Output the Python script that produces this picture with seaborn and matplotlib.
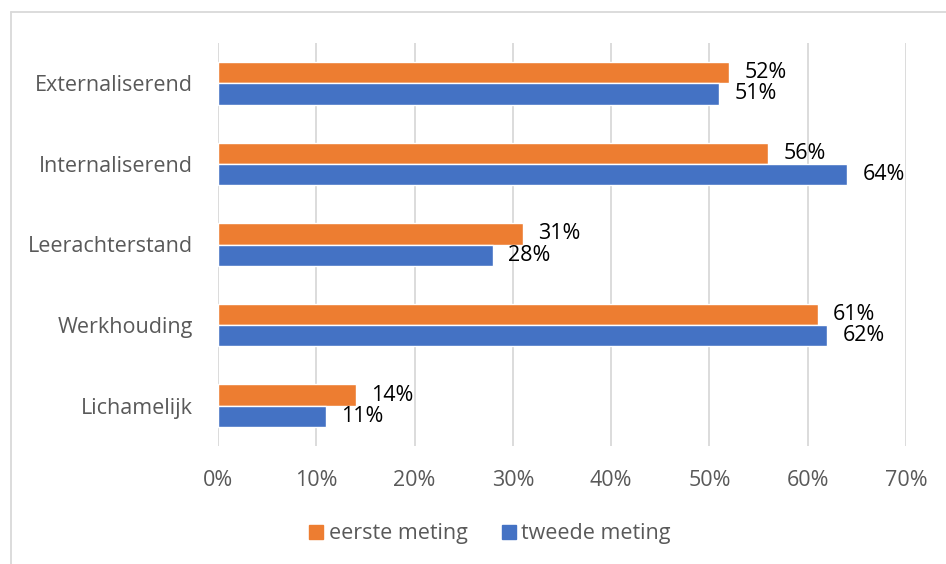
import pandas as pd
import seaborn as sns
import matplotlib.pyplot as plt
from matplotlib.ticker import PercentFormatter
from matplotlib.lines import Line2D

categories = ["Externaliserend", "Internaliserend", "Leerachterstand", "Werkhouding", "Lichamelijk"]
eerste_meting = [52, 56, 31, 61, 14]
tweede_meting = [51, 64, 28, 62, 11]
series_names = ["eerste meting", "tweede meting"]
x_ticks = [0, 10, 20, 30, 40, 50, 60, 70]

df = pd.DataFrame({
    "Categorie": categories * 2,
    "Meting": [series_names[0]] * len(categories) + [series_names[1]] * len(categories),
    "Waarde": eerste_meting + tweede_meting,
})

sns.set_style("white")
plt.rcParams["font.family"] = ["Open Sans", "DejaVu Sans"]
fs = 15.5

fig = plt.figure(figsize=(9.46, 5.64), dpi=100)
ax = fig.add_axes([218 / 946, 1 - 446 / 564, (906 - 218) / 946, (446 - 43) / 564])

palette = {"eerste meting": "#ED7D31", "tweede meting": "#4472C4"}
sns.barplot(data=df, y="Categorie", x="Waarde", hue="Meting", order=categories,
            hue_order=series_names, palette=palette, orient="h", width=0.53,
            ax=ax, saturation=1, legend=False)

for cont in ax.containers:
    ax.bar_label(cont, labels=[f"{v:.0f}%" for v in cont.datavalues],
                 padding=11, fontsize=fs, color="black")

ax.set_xlim(0, 70)
ax.set_xticks(x_ticks)
ax.xaxis.set_major_formatter(PercentFormatter(decimals=0))
ax.grid(axis="x", color="#D9D9D9", linewidth=1.3)
ax.set_axisbelow(True)
for s in ax.spines.values():
    s.set_visible(False)
ax.set_xlabel("")
ax.set_ylabel("")
ax.tick_params(axis="both", length=0, labelsize=fs, labelcolor="#595959")
ax.tick_params(axis="y", pad=18)
ax.tick_params(axis="x", pad=17)

handles = [Line2D([], [], marker="s", linestyle="none", markersize=10,
                  markerfacecolor=palette[n], markeredgecolor=palette[n]) for n in series_names]
fig.legend(handles, series_names, loc="center", bbox_to_anchor=(488 / 946, 1 - 534 / 564),
           ncol=2, frameon=False, fontsize=fs, labelcolor="#595959",
           handletextpad=0.1, columnspacing=1.4, handlelength=1.0)

# light border of the chart area
fig.add_artist(Line2D([11 / 946, 11 / 946], [0, 1 - 12 / 564], transform=fig.transFigure,
                      color="#D9D9D9", linewidth=1.3))
fig.add_artist(Line2D([11 / 946, 1], [1 - 12 / 564, 1 - 12 / 564], transform=fig.transFigure,
                      color="#D9D9D9", linewidth=1.3))

fig.savefig("out.png", dpi=100)
